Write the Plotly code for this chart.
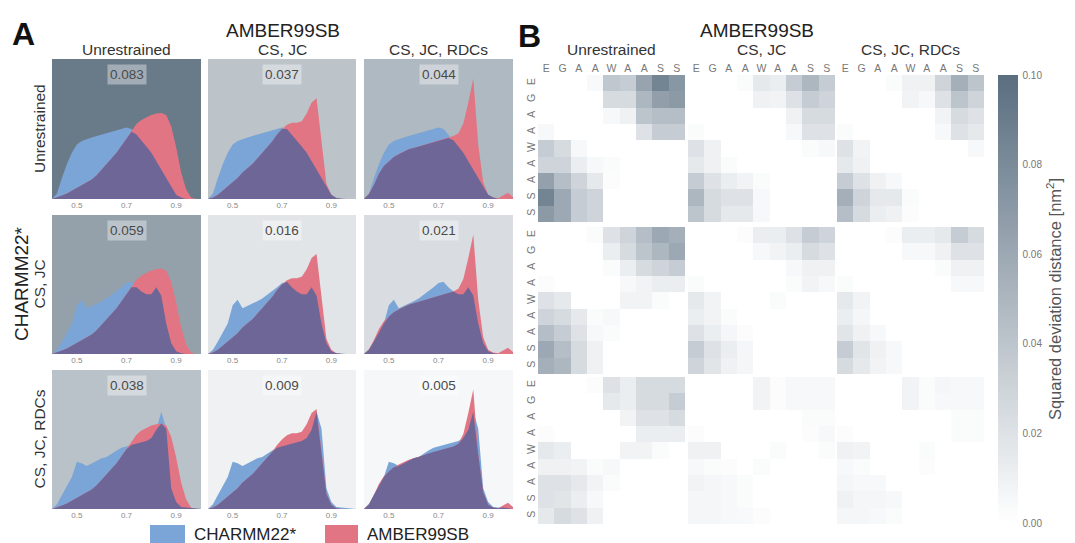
import plotly.graph_objects as go
import plotly.colors as pc

# ---------------- data ----------------
X = [round(0.40 + 0.02 * i, 2) for i in range(31)]

# CHARMM22* distributions (one per CHARMM22* condition = panel row)
charmm_unrestrained = [0, 0.04, 0.15, 0.25, 0.33, 0.39, 0.415, 0.43, 0.44, 0.45, 0.46, 0.47, 0.48, 0.49, 0.505, 0.51,
                       0.50, 0.46, 0.42, 0.375, 0.33, 0.27, 0.21, 0.14, 0.08, 0.03, 0.01, 0, 0, 0, 0]
charmm_cs_jc = [0, 0.03, 0.09, 0.16, 0.22, 0.35, 0.39, 0.33, 0.345, 0.36, 0.38, 0.40, 0.425, 0.45, 0.48, 0.51,
                0.52, 0.48, 0.45, 0.43, 0.43, 0.48, 0.42, 0.22, 0.08, 0.02, 0.005, 0, 0, 0, 0]
charmm_cs_jc_rdcs = [0, 0.035, 0.10, 0.165, 0.23, 0.34, 0.33, 0.31, 0.33, 0.35, 0.365, 0.375, 0.40, 0.42, 0.44, 0.45,
                     0.46, 0.47, 0.48, 0.49, 0.51, 0.57, 0.70, 0.58, 0.15, 0.05, 0.015, 0.01, 0.01, 0.005, 0]

# AMBER99SB distributions (one per AMBER99SB condition = panel column)
amber_unrestrained = [0, 0.01, 0.025, 0.04, 0.06, 0.08, 0.095, 0.115, 0.14, 0.17, 0.21, 0.245, 0.29, 0.33, 0.38, 0.43,
                      0.48, 0.535, 0.565, 0.585, 0.60, 0.61, 0.615, 0.60, 0.52, 0.37, 0.19, 0.07, 0.01, 0, 0]
amber_cs_jc = [0, 0.01, 0.03, 0.06, 0.09, 0.12, 0.15, 0.19, 0.22, 0.25, 0.29, 0.33, 0.37, 0.41, 0.46, 0.50,
               0.53, 0.545, 0.545, 0.555, 0.61, 0.69, 0.72, 0.39, 0.11, 0.03, 0.005, 0, 0, 0, 0]
amber_cs_jc_rdcs = [0, 0.035, 0.10, 0.18, 0.235, 0.27, 0.30, 0.32, 0.34, 0.355, 0.365, 0.375, 0.39, 0.40, 0.41, 0.42,
                    0.43, 0.435, 0.45, 0.47, 0.54, 0.69, 0.86, 0.39, 0.12, 0.03, 0.01, 0.005, 0.025, 0.045, 0.015]

conditions = ["Unrestrained", "CS, JC", "CS, JC, RDCs"]
charmm_curves = [charmm_unrestrained, charmm_cs_jc, charmm_cs_jc_rdcs]
amber_curves = [amber_unrestrained, amber_cs_jc, amber_cs_jc_rdcs]

# squared deviation distance for each (CHARMM22* row, AMBER99SB column)
sdd_values = [[0.083, 0.037, 0.044],
              [0.059, 0.016, 0.021],
              [0.038, 0.009, 0.005]]

residues = ["E", "G", "A", "A", "W", "A", "A", "S", "S"]
x_ticks_a = [0.5, 0.7, 0.9]
cbar_ticks = [0.00, 0.02, 0.04, 0.06, 0.08, 0.10]

# panel B blocks: heat[row][col] -> 9x9 matrix
heat_1_1 = [[0, 0, 0, 0.004, 0.038, 0.035, 0.063, 0.085, 0.072],
            [0, 0, 0, 0, 0.025, 0.025, 0.05, 0.066, 0.07],
            [0, 0, 0, 0, 0.005, 0.01, 0.04, 0.045, 0.045],
            [0.005, 0, 0, 0, 0, 0, 0.02, 0.035, 0.035],
            [0.035, 0.025, 0.005, 0, 0, 0, 0, 0, 0],
            [0.03, 0.03, 0.012, 0.005, 0.003, 0, 0, 0, 0],
            [0.065, 0.045, 0.03, 0.015, 0.002, 0, 0, 0, 0],
            [0.085, 0.06, 0.035, 0.03, 0, 0, 0, 0, 0],
            [0.07, 0.06, 0.035, 0.03, 0, 0, 0, 0, 0]]
heat_1_2 = [[0, 0, 0, 0.003, 0.015, 0.012, 0.035, 0.05, 0.035],
            [0, 0, 0, 0, 0.01, 0.008, 0.02, 0.035, 0.03],
            [0, 0, 0, 0, 0, 0, 0.01, 0.025, 0.025],
            [0.003, 0, 0, 0, 0, 0, 0.005, 0.02, 0.02],
            [0.02, 0.01, 0, 0, 0, 0, 0, 0.003, 0.005],
            [0.015, 0.01, 0.003, 0, 0, 0, 0, 0, 0],
            [0.035, 0.02, 0.012, 0.008, 0.003, 0, 0, 0, 0],
            [0.05, 0.025, 0.02, 0.02, 0.005, 0, 0, 0, 0],
            [0.04, 0.025, 0.015, 0.015, 0.005, 0, 0, 0, 0]]
heat_1_3 = [[0, 0, 0, 0.003, 0.01, 0.01, 0.03, 0.055, 0.04],
            [0, 0, 0, 0, 0.008, 0.005, 0.02, 0.04, 0.03],
            [0, 0, 0, 0, 0, 0, 0.008, 0.025, 0.02],
            [0.003, 0, 0, 0, 0, 0, 0.005, 0.02, 0.015],
            [0.02, 0.008, 0, 0, 0, 0, 0, 0, 0.005],
            [0.015, 0.01, 0, 0, 0, 0, 0, 0, 0],
            [0.035, 0.02, 0.01, 0.005, 0, 0, 0, 0, 0],
            [0.055, 0.03, 0.015, 0.015, 0.003, 0, 0, 0, 0],
            [0.045, 0.025, 0.012, 0.01, 0.002, 0, 0, 0, 0]]
heat_2_1 = [[0, 0, 0, 0.003, 0.02, 0.03, 0.045, 0.06, 0.055],
            [0, 0, 0, 0, 0.012, 0.025, 0.04, 0.05, 0.06],
            [0, 0, 0, 0, 0.003, 0.012, 0.025, 0.03, 0.035],
            [0.002, 0, 0, 0, 0, 0.005, 0.008, 0.012, 0.012],
            [0.02, 0.015, 0, 0, 0, 0.008, 0.008, 0.003, 0],
            [0.03, 0.025, 0.015, 0.003, 0.005, 0, 0, 0, 0],
            [0.045, 0.035, 0.02, 0.005, 0.003, 0, 0, 0, 0],
            [0.06, 0.045, 0.025, 0.01, 0, 0, 0, 0, 0],
            [0.055, 0.05, 0.025, 0.01, 0, 0, 0, 0, 0]]
heat_2_2 = [[0, 0, 0, 0.002, 0.012, 0.012, 0.02, 0.035, 0.03],
            [0, 0, 0, 0, 0.005, 0.008, 0.012, 0.025, 0.02],
            [0, 0, 0, 0, 0, 0, 0.005, 0.01, 0.01],
            [0.003, 0, 0, 0, 0, 0, 0.003, 0.008, 0.005],
            [0.015, 0.008, 0, 0, 0, 0.003, 0, 0, 0],
            [0.012, 0.008, 0.003, 0, 0, 0, 0, 0, 0],
            [0.02, 0.012, 0.006, 0.002, 0, 0, 0, 0, 0],
            [0.035, 0.02, 0.012, 0.006, 0, 0, 0, 0, 0],
            [0.03, 0.018, 0.01, 0.006, 0, 0, 0, 0, 0]]
heat_2_3 = [[0, 0, 0, 0.002, 0.012, 0.012, 0.015, 0.035, 0.025],
            [0, 0, 0, 0, 0.005, 0.005, 0.01, 0.02, 0.02],
            [0, 0, 0, 0, 0, 0, 0.003, 0.01, 0.01],
            [0.003, 0, 0, 0, 0, 0, 0, 0.005, 0.005],
            [0.015, 0.008, 0, 0, 0, 0, 0, 0, 0],
            [0.012, 0.006, 0, 0, 0, 0, 0, 0, 0],
            [0.018, 0.01, 0.005, 0, 0, 0, 0, 0, 0],
            [0.035, 0.018, 0.01, 0.005, 0, 0, 0, 0, 0],
            [0.025, 0.015, 0.008, 0.005, 0, 0, 0, 0, 0]]
heat_3_1 = [[0, 0, 0, 0.002, 0.02, 0.012, 0.025, 0.025, 0.025],
            [0, 0, 0, 0, 0.015, 0.012, 0.025, 0.025, 0.035],
            [0, 0, 0, 0, 0, 0.008, 0.02, 0.02, 0.025],
            [0.002, 0, 0, 0, 0, 0, 0.012, 0.012, 0.012],
            [0.015, 0.012, 0, 0, 0, 0.008, 0.008, 0.003, 0],
            [0.01, 0.01, 0.008, 0.003, 0.005, 0, 0, 0, 0],
            [0.02, 0.02, 0.015, 0.008, 0.003, 0, 0, 0, 0],
            [0.02, 0.018, 0.012, 0.005, 0, 0, 0, 0, 0],
            [0.015, 0.025, 0.02, 0.01, 0, 0, 0, 0, 0]]
heat_3_2 = [[0, 0, 0, 0, 0.008, 0.002, 0.005, 0.005, 0.005],
            [0, 0, 0, 0, 0.008, 0.002, 0.005, 0.005, 0.005],
            [0, 0, 0, 0, 0, 0, 0, 0.003, 0.003],
            [0.002, 0, 0, 0, 0, 0, 0, 0.002, 0.005],
            [0.01, 0.01, 0, 0, 0, 0.003, 0, 0, 0.003],
            [0.005, 0.003, 0.002, 0, 0.003, 0, 0, 0, 0],
            [0.008, 0.006, 0.005, 0.003, 0, 0, 0, 0, 0],
            [0.006, 0.006, 0.005, 0.003, 0, 0, 0, 0, 0],
            [0.006, 0.006, 0.005, 0.004, 0.002, 0, 0, 0, 0]]
heat_3_3 = [[0, 0, 0, 0, 0.008, 0.003, 0.006, 0.005, 0.005],
            [0, 0, 0, 0, 0.008, 0.003, 0.005, 0.005, 0.005],
            [0, 0, 0, 0, 0, 0, 0, 0.003, 0.003],
            [0.002, 0, 0, 0, 0, 0, 0, 0.003, 0.003],
            [0.01, 0.008, 0, 0, 0, 0.003, 0, 0, 0],
            [0.005, 0.003, 0, 0, 0, 0.002, 0, 0, 0],
            [0.006, 0.005, 0.005, 0, 0, 0, 0, 0, 0],
            [0.01, 0.006, 0.006, 0.005, 0, 0, 0, 0, 0],
            [0.006, 0.006, 0.005, 0.003, 0, 0, 0, 0, 0]]
heat_blocks = [[heat_1_1, heat_1_2, heat_1_3],
               [heat_2_1, heat_2_2, heat_2_3],
               [heat_3_1, heat_3_2, heat_3_3]]

# ---------------- style ----------------
PAGE_MARGIN = 8          # default body margin of the html page
W, H = 1075 - PAGE_MARGIN, 543 - PAGE_MARGIN
FONT = "Liberation Sans, Arial, sans-serif"
BLUE = "#7ba5d7"
RED = "#e27583"
PURPLE = "#6f6698"
CSCALE = [[0.0, "#ffffff"], [1.0, "#5a6e80"]]
PANEL_SCALE = [[0.0, "#ffffff"], [1.0, "#4a5f71"]]
CMAX = 0.10


def fx(p):
    return (p - PAGE_MARGIN) / W


def fy(p):
    return 1 - (p - PAGE_MARGIN) / H


def sfx(k):
    return "" if k == 1 else str(k)


a_cols = [(52, 201), (208, 356), (364, 513)]
a_rows = [(59, 199), (215, 354), (370, 509)]
b_cols = [(538, 685), (688, 835), (837, 984)]
b_rows = [(75, 222), (227, 374), (377, 524)]

fig = go.Figure()
layout = {}
shapes = []
annotations = []

# ---------------- panel A ----------------
for r in range(3):
    for c in range(3):
        k = r * 3 + c + 1
        xa, ya = f"x{sfx(k)}", f"y{sfx(k)}"
        blue = charmm_curves[r]
        red = amber_curves[c]
        both = [min(b, d) for b, d in zip(blue, red)]
        for vals, col in ((blue, BLUE), (red, RED), (both, PURPLE)):
            fig.add_trace(go.Scatter(x=X, y=vals, mode="lines", line=dict(width=0, color=col),
                                     fill="tozeroy", fillcolor=col, xaxis=xa, yaxis=ya,
                                     showlegend=False, hoverinfo="skip"))
        layout[f"xaxis{sfx(k)}"] = dict(domain=[fx(a_cols[c][0]), fx(a_cols[c][1])], anchor=ya,
                                        range=[0.4, 1.0], tickvals=x_ticks_a,
                                        ticktext=[f"{v:.1f}" for v in x_ticks_a],
                                        showgrid=False, zeroline=False, ticks="", showline=False,
                                        tickfont=dict(size=8, color="#888", family=FONT), fixedrange=True)
        layout[f"yaxis{sfx(k)}"] = dict(domain=[fy(a_rows[r][1]), fy(a_rows[r][0])], anchor=xa,
                                        range=[0, 1.0], showticklabels=False, showgrid=False,
                                        zeroline=False, ticks="", showline=False, fixedrange=True)
        bg = pc.sample_colorscale(PANEL_SCALE, [sdd_values[r][c] / CMAX])[0]
        shapes.append(dict(type="rect", xref=f"{xa} domain", yref=f"{ya} domain",
                           x0=0, x1=1, y0=0, y1=1, fillcolor=bg, line=dict(width=0), layer="below"))
        annotations.append(dict(text=f"{sdd_values[r][c]:.3f}", xref=f"{xa} domain", yref=f"{ya} domain",
                                x=0.5, y=0.89, xanchor="center", yanchor="middle", showarrow=False,
                                bgcolor="rgba(255,255,255,0.38)",
                                borderpad=2, font=dict(size=13.5, color="#4a4a4a", family=FONT)))

# ---------------- panel B ----------------
for r in range(3):
    for c in range(3):
        k = 10 + r * 3 + c
        xa, ya = f"x{k}", f"y{k}"
        fig.add_trace(go.Heatmap(z=heat_blocks[r][c], x=list(range(9)), y=list(range(9)),
                                 coloraxis="coloraxis", xaxis=xa, yaxis=ya, hoverinfo="skip"))
        layout[f"xaxis{k}"] = dict(domain=[fx(b_cols[c][0]), fx(b_cols[c][1])], anchor=ya,
                                   range=[-0.5, 8.5], tickvals=list(range(9)), ticktext=residues,
                                   side="top", showticklabels=(r == 0), showgrid=False,
                                   zeroline=False, ticks="", showline=False,
                                   tickfont=dict(size=10.5, color="#777", family=FONT), fixedrange=True)
        layout[f"yaxis{k}"] = dict(domain=[fy(b_rows[r][1]), fy(b_rows[r][0])], anchor=xa,
                                   range=[8.5, -0.5], tickvals=list(range(9)), ticktext=residues,
                                   tickangle=-90, showticklabels=(c == 0), showgrid=False,
                                   zeroline=False, ticks="", showline=False,
                                   tickfont=dict(size=10.5, color="#777", family=FONT), fixedrange=True)

layout["coloraxis"] = dict(
    colorscale=CSCALE, cmin=0, cmax=CMAX,
    colorbar=dict(x=fx(998), xanchor="left", xref="paper", y=fy(299), yanchor="middle",
                  len=448 / H, lenmode="fraction", thickness=20, thicknessmode="pixels",
                  xpad=0, ypad=0, outlinewidth=0, ticks="outside", ticklen=3,
                  tickcolor="rgba(0,0,0,0)", tickvals=cbar_ticks,
                  ticktext=[f"{v:.2f}" for v in cbar_ticks],
                  tickfont=dict(size=10, color="#777", family=FONT),
                  title=dict(text="Squared deviation distance [nm<sup>2</sup>]", side="right",
                             font=dict(size=16.5, color="#555", family=FONT))))


def add_text(text, x, y, size, color="#222", angle=0, bold=False, xanchor="center"):
    annotations.append(dict(text=f"<b>{text}</b>" if bold else text, xref="paper", yref="paper",
                            x=fx(x), y=fy(y), xanchor=xanchor, yanchor="middle", showarrow=False,
                            textangle=angle, font=dict(size=size, color=color, family=FONT)))


# panel A texts
add_text("A", 23, 34, 32, "#111", bold=True)
add_text("AMBER99SB", 283, 30, 19, "#222")
for c in range(3):
    add_text(conditions[c], (a_cols[c][0] + a_cols[c][1]) / 2, 49, 15.5, "#333")
for r in range(3):
    add_text(conditions[r], 39, (a_rows[r][0] + a_rows[r][1]) / 2, 15.5, "#333", angle=-90)
add_text("CHARMM22*", 21, 284, 19, "#222", angle=-90)

# legend
shapes.append(dict(type="rect", xref="paper", yref="paper", x0=fx(150), x1=fx(185), y0=fy(543), y1=fy(525),
                   fillcolor=BLUE, line=dict(width=0)))
shapes.append(dict(type="rect", xref="paper", yref="paper", x0=fx(325), x1=fx(358), y0=fy(543), y1=fy(525),
                   fillcolor=RED, line=dict(width=0)))
add_text("CHARMM22*", 192, 534, 17, "#222", xanchor="left")
add_text("AMBER99SB", 365, 534, 17, "#222", xanchor="left")

# panel B texts
add_text("B", 529, 36, 32, "#111", bold=True)
add_text("AMBER99SB", 757, 30, 19, "#222")
for c in range(3):
    add_text(conditions[c], (b_cols[c][0] + b_cols[c][1]) / 2, 49, 15.5, "#333")

fig.update_layout(width=W, height=H, margin=dict(l=0, r=0, t=0, b=0), autosize=False,
                  paper_bgcolor="white", plot_bgcolor="white", showlegend=False,
                  shapes=shapes, annotations=annotations, font=dict(family=FONT), **layout)

fig.write_html("out.html")
